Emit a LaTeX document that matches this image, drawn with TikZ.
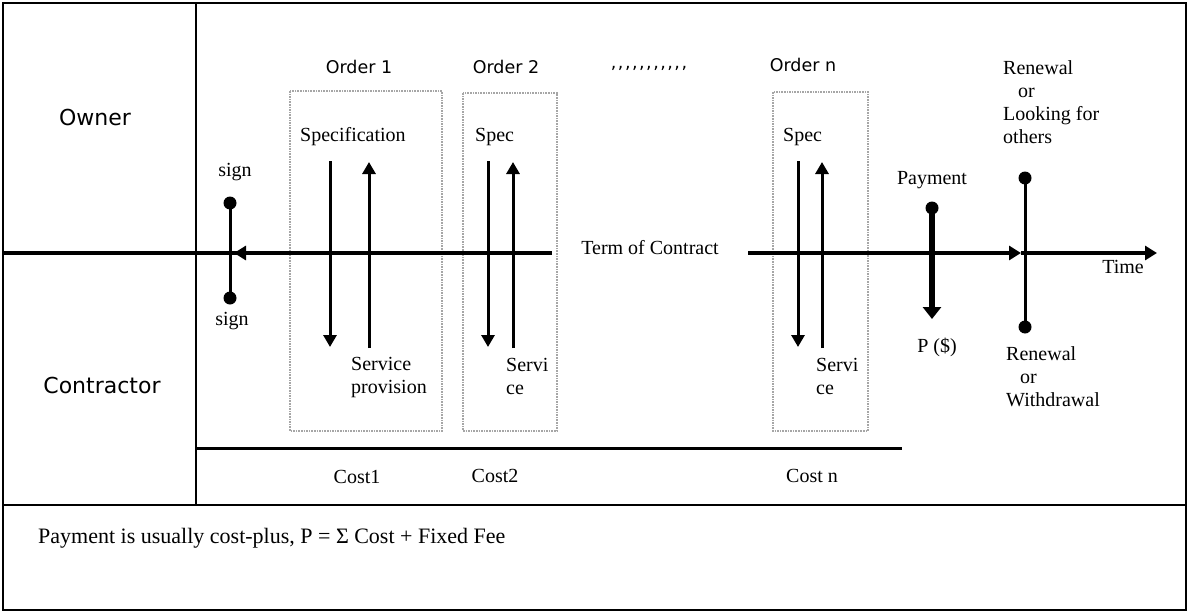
\documentclass[tikz,border=0pt]{standalone}
\usepackage{fontspec}
\setmainfont{Liberation Serif}
\newfontfamily\lanefont{DejaVu Sans}
\usetikzlibrary{arrows.meta}
\begin{document}
\begin{tikzpicture}[x=1pt,y=-1pt,
  frameline/.style={line width=2.5pt,line cap=rect},
  axisline/.style={line width=4pt},
  axistip/.style={-{Triangle[width=14pt,length=12pt]}},
  eventline/.style={line width=3pt},
  flowarrow/.style={line width=3pt,-{Triangle[width=13pt,length=12pt]}},
  payarrow/.style={line width=6pt,-{Triangle[width=18pt,length=12pt]}},
  dot/.style={circle,fill,inner sep=0pt,minimum size=13pt},
  orderbox/.style={draw=gray!70,line width=1.6pt,densely dotted},
  lane/.style={font=\lanefont\fontsize{22}{26}\selectfont,inner sep=0pt},
  ordertitle/.style={font=\lanefont\fontsize{17.5}{21}\selectfont,inner sep=0pt},
  note/.style={font=\fontsize{20}{23}\selectfont,inner sep=0pt},
  notel/.style={note,align=left,anchor=north west},
]
\useasboundingbox (0,0) rectangle (1189,613);

% outer frame and lane dividers
\draw[frameline] (3,3) rectangle (1186,610);
\coordinate (divTop) at (196,3);
\coordinate (divBot) at (196,505);
\draw[frameline] (divTop) -- (divBot);
\coordinate (secL) at (3,505);
\coordinate (secR) at (1186,505);
\draw[frameline] (secL) -- (secR);

% lane labels
\node[lane] (owner) at (95,117) {Owner};
\node[lane] (contractor) at (102,385) {Contractor};

% order boxes
\draw[orderbox] (290,91) rectangle (442,431);
\draw[orderbox] (463,93) rectangle (557,431);
\draw[orderbox] (773,92) rectangle (868,431);

% time axis
\coordinate (axL) at (3,253);
\coordinate (axM) at (552,253);
\coordinate (axS) at (234,253);
\coordinate (axN) at (748,253);
\coordinate (axR) at (1021,253);
\coordinate (axE) at (1157,253);
\draw[axisline] (axL) -- (axM);
\draw[axisline,axistip] (axM) -- (axS);
\draw[axisline,axistip] (axN) -- (axR);
\draw[axisline,axistip] (axR) -- (axE);
\node[note] (term) at (650,248) {Term of Contract};
\node[note] (time) at (1123,267) {Time};

% signing
\node[note] (signT) at (235,172) {sign};
\node[dot] (sgT) at (230,203) {};
\node[dot] (sgB) at (230,298) {};
\draw[eventline] (sgT.center) -- (sgB.center);
\node[note] (signB) at (232,321) {sign};

% order 1
\node[ordertitle] (o1) at (359,67) {Order 1};
\node[note,anchor=west] (spec1) at (300,137) {Specification};
\coordinate (d1a) at (330,161);
\coordinate (d1b) at (330,347);
\coordinate (u1a) at (369,348);
\coordinate (u1b) at (369,162);
\draw[flowarrow] (d1a) -- (d1b);
\draw[flowarrow] (u1a) -- (u1b);
\node[notel] (serv1) at (351,357) {Service\\provision};

% order 2
\node[ordertitle] (o2) at (506,67) {Order 2};
\node[note,anchor=west] (spec2) at (475,137) {Spec};
\coordinate (d2a) at (488,161);
\coordinate (d2b) at (488,347);
\coordinate (u2a) at (513,348);
\coordinate (u2b) at (513,162);
\draw[flowarrow] (d2a) -- (d2b);
\draw[flowarrow] (u2a) -- (u2b);
\node[notel] (serv2) at (506,358) {Servi\\ce};

% more orders
\node[font=\lanefont\fontsize{17.5}{21}\selectfont,inner sep=0pt] (more) at (649,68)
  {,\hspace{1.5pt},\hspace{1.5pt},\hspace{1.5pt},\hspace{1.5pt},\hspace{1.5pt},\hspace{1.5pt},\hspace{1.5pt},\hspace{1.5pt},\hspace{1.5pt},\hspace{1.5pt},};

% order n
\node[ordertitle] (on) at (803,65) {Order n};
\node[note,anchor=west] (specn) at (783,137) {Spec};
\coordinate (dna) at (798,161);
\coordinate (dnb) at (798,347);
\coordinate (una) at (822,348);
\coordinate (unb) at (822,162);
\draw[flowarrow] (dna) -- (dnb);
\draw[flowarrow] (una) -- (unb);
\node[notel] (servn) at (816,358) {Servi\\ce};

% payment
\node[note] (paylbl) at (932,180) {Payment};
\node[dot] (payT) at (932,208) {};
\coordinate (payB) at (932,319);
\draw[payarrow] (payT.center) -- (payB);
\node[note] (pamt) at (937,347) {P (\$)};

% end of term
\node[notel] (renTop) at (1003,60) {Renewal\\\hspace{15pt}or\\Looking for\\others};
\node[dot] (rnT) at (1025,178) {};
\node[dot] (rnB) at (1025,327) {};
\draw[eventline] (rnT.center) -- (rnB.center);
\node[notel] (renBot) at (1006,346) {Renewal\\\hspace{14pt}or\\Withdrawal};

% costs
\coordinate (costL) at (196,448);
\coordinate (costR) at (902,448);
\draw[eventline] (costL) -- (costR);
\node[note] (c1) at (357,477) {Cost1};
\node[note] (c2) at (495,476) {Cost2};
\node[note] (cn) at (812,476) {Cost n};

% payment rule
\node[font=\fontsize{22}{26}\selectfont,anchor=west,inner sep=0pt] (rule) at (38,538)
  {Payment is usually cost-plus, P = Σ Cost + Fixed Fee};
\end{tikzpicture}
\end{document}
